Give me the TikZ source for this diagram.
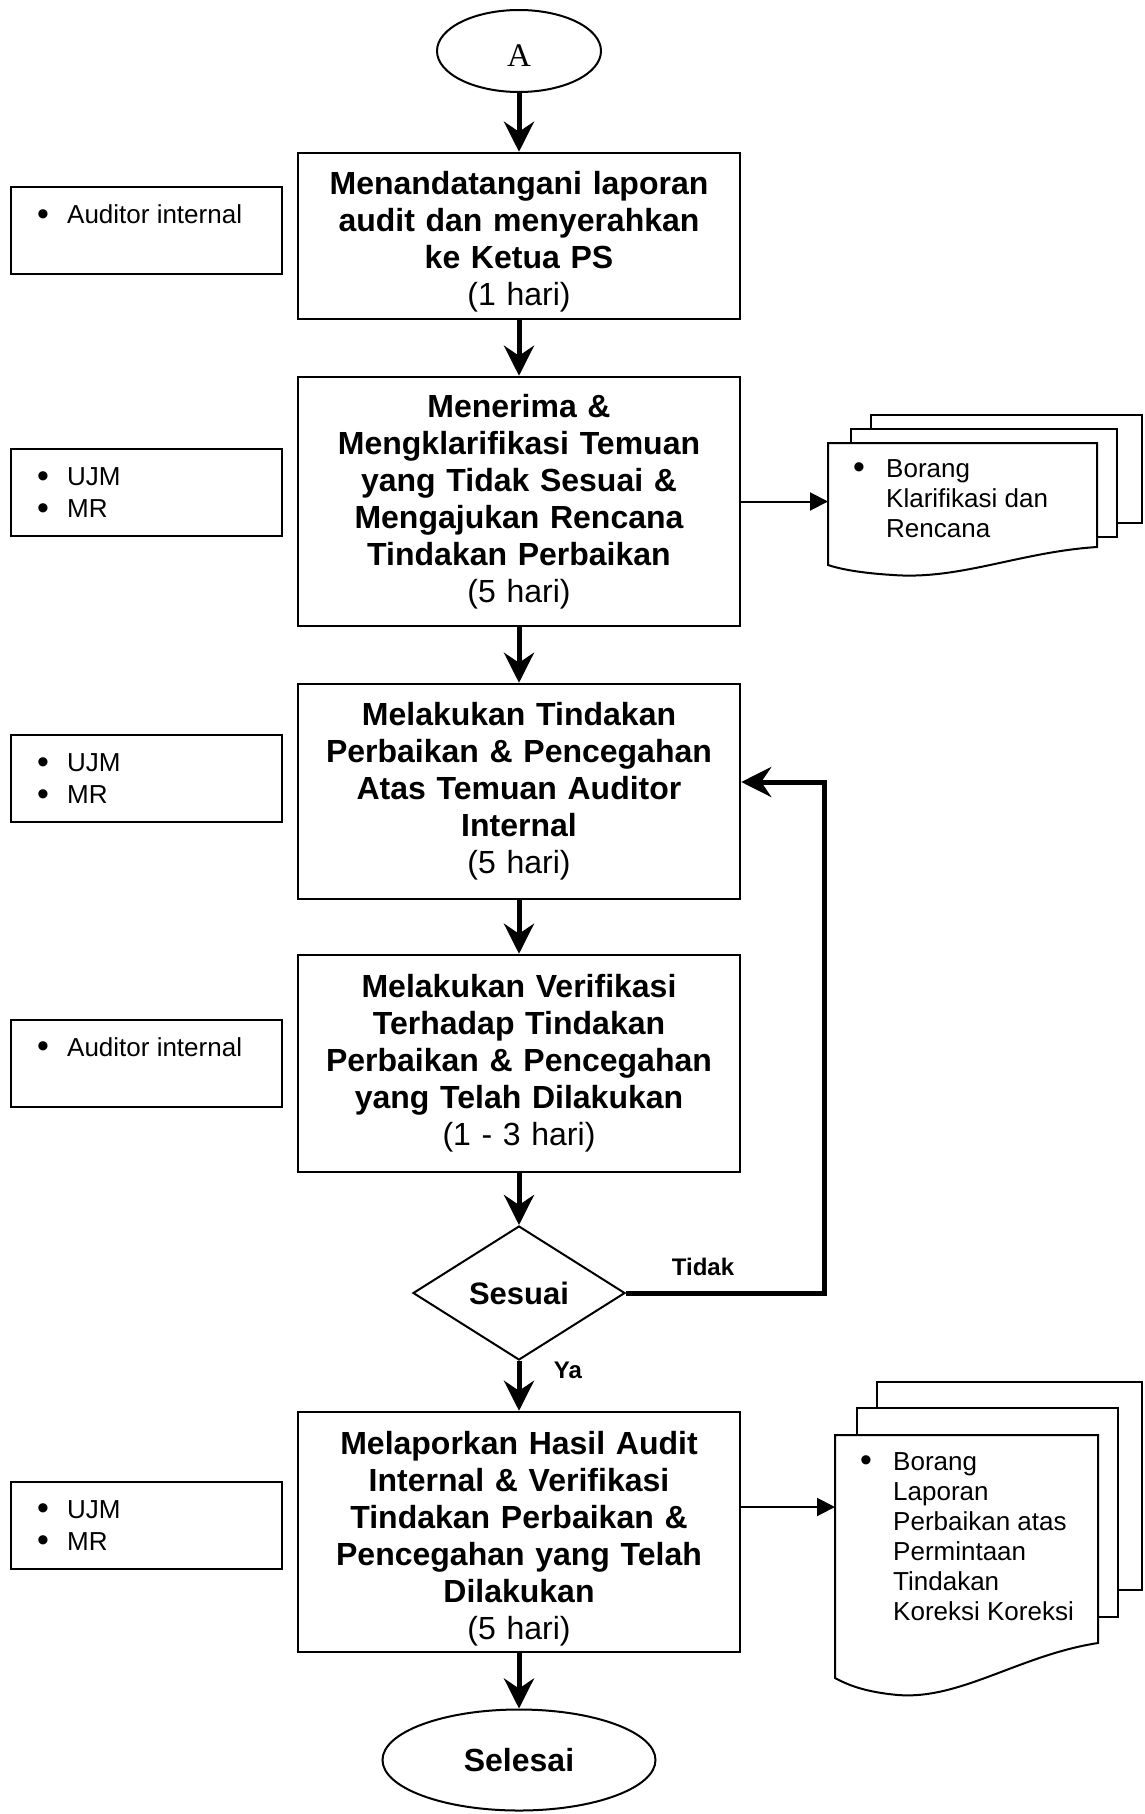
\documentclass[tikz,border=0pt]{standalone}
\usepackage{fontspec}
\setmainfont{Liberation Sans}
\newfontfamily\seriffont{Liberation Serif}
\usetikzlibrary{shapes.geometric,arrows.meta}
\tikzset{
  mainbox/.style={draw, line width=2.5pt, minimum width=442pt, text width=436pt, align=center, inner sep=0pt,
    font=\fontsize{32}{37}\selectfont\bfseries},
  leftbox/.style={draw, line width=2pt, minimum width=271pt, minimum height=87pt, inner sep=0pt},
  listtext/.style={anchor=north west, inner sep=0pt, align=left},
  docline/.style={draw, line width=2pt, fill=white},
  mainarrow/.style={line width=5pt, -{Stealth[length=30pt,width=30pt,inset=10pt]}},
  thinarrow/.style={line width=2pt, -{Triangle[length=18pt,width=18pt]}},
  terminal/.style={draw, ellipse, line width=2pt, inner sep=0pt},
  decision/.style={draw, diamond, line width=2pt, inner sep=0pt, minimum width=212pt, minimum height=134pt,
    font=\fontsize{31}{36}\selectfont\bfseries},
  edgelabel/.style={inner sep=0pt, font=\fontsize{24}{28}\selectfont\bfseries}
}
\newcommand{\bigbul}{\raisebox{-1.5pt}{\scalebox{1.3}{\textbullet}}}
\newcommand{\leftlist}[1]{\fontsize{26}{32}\selectfont\begin{tabular}{@{}p{30pt}@{}l@{}}#1\end{tabular}}
\newcommand{\doclist}[1]{\fontsize{26}{30}\selectfont\begin{tabular}{@{}p{33pt}@{}l@{}}#1\end{tabular}}
\begin{document}
\begin{tikzpicture}[x=1pt,y=-1pt]
\useasboundingbox (0,0) rectangle (1144,1814);

% start
\node[terminal, minimum width=164pt, minimum height=82pt, text height=31pt, text depth=0pt,
  font=\seriffont\fontsize{33}{37}\selectfont] (A) at (519,51) {A};

% main boxes
\node[mainbox, minimum height=166pt] (b1) at (519,236) {\rule{0pt}{35pt}Menandatangani laporan\\audit dan menyerahkan\\ke Ketua PS\\\mdseries(1 hari)};
\node[mainbox, minimum height=249pt] (b2) at (519,501.5) {Menerima \&\\Mengklarifikasi Temuan\\yang Tidak Sesuai \&\\Mengajukan Rencana\\Tindakan Perbaikan\\\mdseries(5 hari)};
\node[mainbox, minimum height=215pt] (b3) at (519,791.5) {Melakukan Tindakan\\Perbaikan \& Pencegahan\\Atas Temuan Auditor\\Internal\\\mdseries(5 hari)};
\node[mainbox, minimum height=217pt] (b4) at (519,1063.5) {Melakukan Verifikasi\\Terhadap Tindakan\\Perbaikan \& Pencegahan\\yang Telah Dilakukan\\\mdseries(1 - 3 hari)};
\node[decision] (dia) at (519,1293) {Sesuai};
\node[mainbox, minimum height=240pt] (b5) at (519,1532) {\rule{0pt}{37pt}Melaporkan Hasil Audit\\Internal \& Verifikasi\\Tindakan Perbaikan \&\\Pencegahan yang Telah\\Dilakukan\\\mdseries(5 hari)};
\node[terminal, minimum width=273pt, minimum height=101pt, font=\fontsize{32}{37}\selectfont\bfseries] (end) at (519,1760) {Selesai};

% left boxes
\node[leftbox] (l1) at (146.5,230.5) {};
\node[listtext] (t1) at ([shift={(27,15)}]l1.north west) {\leftlist{\bigbul & Auditor internal}};
\node[leftbox] (l2) at (146.5,492.5) {};
\node[listtext] (t2) at ([shift={(27,15)}]l2.north west) {\leftlist{\bigbul & UJM\\ \bigbul & MR}};
\node[leftbox] (l3) at (146.5,778.5) {};
\node[listtext] (t3) at ([shift={(27,15)}]l3.north west) {\leftlist{\bigbul & UJM\\ \bigbul & MR}};
\node[leftbox] (l4) at (146.5,1063) {};
\node[listtext] (t4) at ([shift={(27,15)}]l4.north west) {\leftlist{\bigbul & Auditor internal}};
\node[leftbox] (l5) at (146.5,1525) {};
\node[listtext] (t5) at ([shift={(27,15)}]l5.north west) {\leftlist{\bigbul & UJM\\ \bigbul & MR}};

% document 1
\path[docline] (871,415) rectangle (1142,523);
\path[docline] (851,429) rectangle (1117,537);
\path[docline] (828,443) -- (1097,443) -- (1097,547)
  .. controls (1020,552) and (960,580) .. (893,575)
  .. controls (860,573) and (840,569) .. (828,565) -- cycle;
\coordinate (d1in) at (828,501.5);
\node[listtext] (dt1) at (853,456) {\doclist{\bigbul & Borang\\ & Klarifikasi dan\\ & Rencana}};

% document 2
\path[docline] (877,1382) rectangle (1142,1590);
\path[docline] (857,1408) rectangle (1118,1617);
\path[docline] (835,1435) -- (1098,1435) -- (1098,1643)
  .. controls (1020,1655) and (960,1700) .. (898,1695)
  .. controls (865,1692) and (848,1685) .. (835,1678) -- cycle;
\coordinate (d2in) at (835,1507);
\node[listtext] (dt2) at (860,1449) {\doclist{\bigbul & Borang\\ & Laporan\\ & Perbaikan atas\\ & Permintaan\\ & Tindakan\\ & Koreksi Koreksi}};

% connectors
\draw[mainarrow] (A.south) -- (b1.north);
\draw[mainarrow] (b1.south) -- (b2.north);
\draw[mainarrow] (b2.south) -- (b3.north);
\draw[mainarrow] (b3.south) -- (b4.north);
\draw[mainarrow] (b4.south) -- (dia.north);
\draw[mainarrow] (dia.south) -- (b5.north);
\draw[mainarrow] (b5.south) -- (end.north);
\draw[thinarrow] (b2.east) -- (d1in);
\draw[thinarrow] (b5.east |- d2in) -- (d2in);
\coordinate (loop) at (824,782);
\draw[mainarrow, line join=miter] (dia.east) -| (loop) -- (b3.east |- loop);
\node[edgelabel] (tidak) at (703,1267) {Tidak};
\node[edgelabel] (ya) at (568,1370) {Ya};
\end{tikzpicture}
\end{document}
